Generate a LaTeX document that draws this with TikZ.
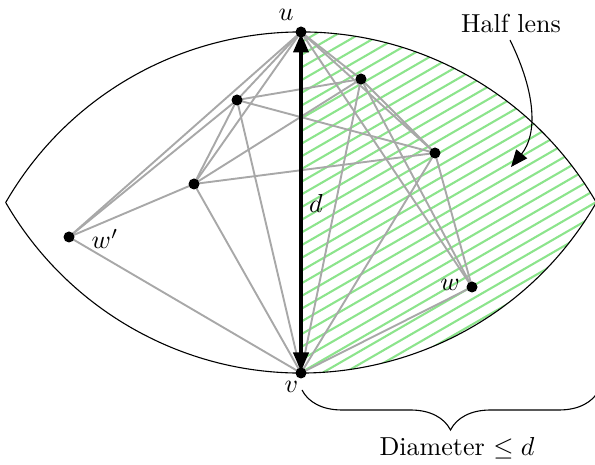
\documentclass[tikz,border=0pt]{standalone}
\usetikzlibrary{arrows.meta,decorations.pathreplacing,backgrounds}
\definecolor{hatchgreen}{RGB}{140,228,140}
\definecolor{edgegray}{RGB}{168,168,168}
\begin{document}
\begin{tikzpicture}[x=1pt,y=1pt,
  lbl/.style={scale=2.6,inner sep=0pt},
  dot/.style={circle,fill=black,inner sep=0pt,minimum size=11pt},
  edge/.style={draw=edgegray,line width=1.9pt},
  hatch/.style={draw=hatchgreen,line width=2.1pt},
  lensline/.style={draw=black,line width=1.1pt}]
\useasboundingbox (0,0) rectangle (595,465);
% vertices
\node[dot] (u) at (301,433) {};
\node[dot] (v) at (301,92) {};
\node[dot] (a) at (237,365) {};
\node[dot] (b) at (361,386) {};
\node[dot] (c) at (435,312) {};
\node[dot] (e) at (194,281) {};
\node[dot] (wp) at (69,228) {};
\node[dot] (w) at (472,178) {};
\begin{scope}[on background layer]
  % hatched half lens
  \begin{scope}
    \clip (301,433) arc[start angle=90,end angle=30,radius=341pt]
          arc[start angle=-30,end angle=-90,radius=341pt] -- cycle;
    \foreach \k in {-28,...,17}{
      \draw[hatch] (300,{244.3+12.7*\k}) -- (600,{417.5+12.7*\k});
    }
  \end{scope}
  % lens outline
  \draw[lensline] (5.7,262.5) arc[start angle=150,end angle=30,radius=341pt]
        arc[start angle=-30,end angle=-150,radius=341pt];
  % edges
  \foreach \s/\t in {u/a,u/e,u/wp,u/b,u/c,u/w,v/wp,v/e,v/a,v/b,v/c,v/w,
                     a/b,a/c,a/e,a/wp,b/e,b/c,b/w,c/e,c/w,e/wp}{
    \draw[edge] (\s.center) -- (\t.center);
  }
  % diameter arrow
  \draw[line width=3.8pt,shorten <=1.5pt,shorten >=1.5pt,
        {Triangle[length=19pt,width=15pt]}-{Triangle[length=19pt,width=15pt]}]
        (v.center) -- (u.center);
\end{scope}
% labels
\node[lbl] (lu) at (286,450) {$u$};
\node[lbl] (lv) at (291.5,78) {$v$};
\node[lbl] (lw) at (450,180) {$w$};
\node[lbl] (lwp) at (105,226) {$w'$};
\node[lbl] (ld) at (316,262) {$d$};
\node[lbl] (hl) at (511,442) {Half lens};
\node[lbl] (diam) at (457,17) {Diameter $\leq d$};
% curved arrow
\coordinate (hlstart) at (510,425);
\coordinate (hlend) at (511,298);
\draw[line width=1.1pt,-{Triangle[length=17pt,width=14pt]}] (hlstart) .. controls (537,370) and (537,330) .. (hlend);
% brace
\coordinate (br1) at (302,75);
\coordinate (br2) at (599,75);
\draw[line width=1.1pt,decorate,decoration={brace,mirror,amplitude=40pt}] (br1) -- (br2);
\end{tikzpicture}
\end{document}
